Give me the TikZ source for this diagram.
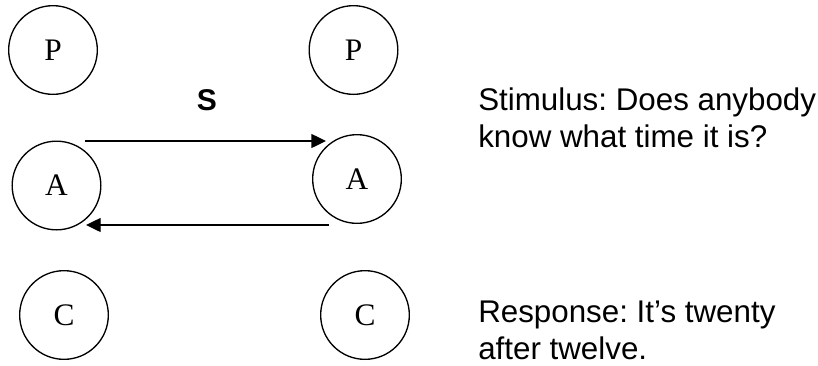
\documentclass[tikz,border=0pt]{standalone}
\usepackage{fontspec}
\setmainfont{Liberation Serif}
\newfontfamily\arialfont{Liberation Sans}
\usetikzlibrary{arrows.meta}
\frenchspacing

\tikzset{
	ego/.style={draw, circle, line width=1pt, minimum size=66.5pt, inner sep=0pt, font=\fontsize{23.5}{28}\selectfont},
	transaction/.style={line width=1pt, -{Triangle[length=11pt,width=10.5pt]}},
	remark/.style={anchor=north west, inner sep=0pt, align=left, font=\arialfont\fontsize{23.5}{27.6}\selectfont}
}

\begin{document}
\begin{tikzpicture}[x=0.75pt,y=0.75pt,yscale=-1,xscale=1]
	\useasboundingbox (0,0) rectangle (818,365);

	% Ego states, left person
	\node[ego] (pL) at (53,50) {P};
	\node[ego] (aL) at (56.5,185.5) {A};
	\node[ego] (cL) at (64,315) {C};
	% Ego states, right person
	\node[ego] (pR) at (353.5,50) {P};
	\node[ego] (aR) at (357,179) {A};
	\node[ego] (cR) at (365,315) {C};

	%Straight Lines: stimulus and response
	\coordinate (stimOut) at (85,141);
	\coordinate (stimIn) at (326,141);
	\coordinate (respOut) at (329,225);
	\coordinate (respIn) at (86,225);
	\draw[transaction] (stimOut) -- (stimIn);
	\draw[transaction] (respOut) -- (respIn);

	% Text Node
	\node[font=\arialfont\bfseries\fontsize{22.5}{26}\selectfont, inner sep=0pt] (sLabel) at (207,100) {S};
	% Text Node
	\node[remark] (stimText) at (478,88) {Stimulus: Does anybody\\know what time it is?};
	% Text Node
	\node[remark] (respText) at (478,301) {Response: It’s twenty\\after twelve.};

\end{tikzpicture}
\end{document}
